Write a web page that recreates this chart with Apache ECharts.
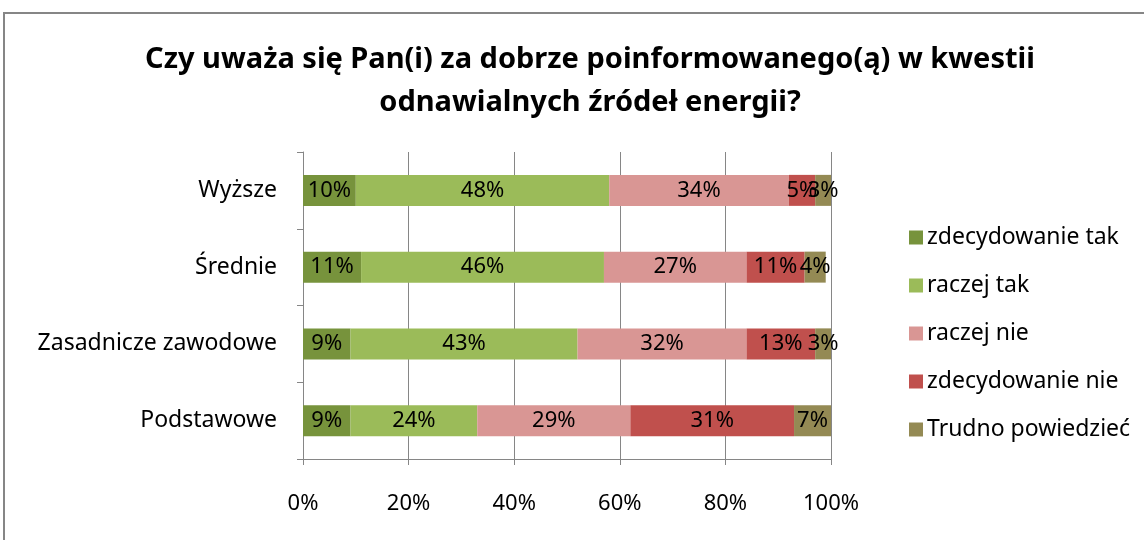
<!DOCTYPE html>
<html>
<head>
<meta charset="utf-8">
<script src="https://cdn.jsdelivr.net/npm/echarts@6/dist/echarts.min.js"></script>
<style>
  html, body { margin: 0; padding: 0; background: #ffffff; }
  #chart { width: 1144px; height: 540px; }
</style>
</head>
<body>
<div id="chart"></div>
<script>
// Education levels (top to bottom)
const categories = ['Wyższe', 'Średnie', 'Zasadnicze zawodowe', 'Podstawowe'];

// Answer shares in percent, one array per answer
const zdecydowanieTak = [10, 11, 9, 9];
const raczejTak = [48, 46, 43, 24];
const raczejNie = [34, 27, 32, 29];
const zdecydowanieNie = [5, 11, 13, 31];
const trudnoPowiedziec = [3, 4, 3, 7];

const seriesNames = ['zdecydowanie tak', 'raczej tak', 'raczej nie', 'zdecydowanie nie', 'Trudno powiedzieć'];
const seriesValues = [zdecydowanieTak, raczejTak, raczejNie, zdecydowanieNie, trudnoPowiedziec];
const seriesColors = ['#77933C', '#9BBB59', '#D99694', '#C0504D', '#948A54'];

const FONT = '"Noto Sans", "Open Sans", sans-serif';

const chart = echarts.init(document.getElementById('chart'), null, { renderer: 'canvas' });

chart.setOption({
  backgroundColor: '#ffffff',
  animation: false,
  textStyle: { fontFamily: FONT, color: '#000000' },
  graphic: [{
    type: 'rect',
    shape: { x: 4, y: 13, width: 1150, height: 540 },
    style: { fill: 'none', stroke: '#868686', lineWidth: 2 },
    silent: true
  }],
  title: {
    text: 'Czy uważa się Pan(i) za dobrze poinformowanego(ą) w kwestii\nodnawialnych źródeł energii?',
    left: 585,
    top: 33,
    textAlign: 'center',
    textStyle: {
      fontFamily: FONT,
      fontSize: 29,
      fontWeight: 'bold',
      color: '#000000',
      lineHeight: 43
    }
  },
  legend: {
    orient: 'vertical',
    left: 904,
    top: 221,
    itemWidth: 14,
    itemHeight: 14,
    itemGap: 25,
    icon: 'rect',
    data: seriesNames,
    textStyle: { fontFamily: FONT, fontSize: 23, color: '#000000', lineHeight: 23, padding: [0, 0, 0, -1] }
  },
  grid: { left: 303, right: 313, top: 152, bottom: 81, containLabel: false },
  xAxis: {
    type: 'value',
    min: 0,
    max: 100,
    interval: 20,
    axisLine: { show: true, lineStyle: { color: '#868686', width: 1 } },
    axisTick: { show: true, length: 6, lineStyle: { color: '#868686' } },
    splitLine: { show: true, lineStyle: { color: '#868686', width: 1 } },
    axisLabel: {
      formatter: '{value}%',
      fontFamily: FONT,
      fontSize: 22,
      color: '#000000',
      margin: 34
    }
  },
  yAxis: {
    type: 'category',
    inverse: true,
    data: categories,
    axisLine: { show: true, lineStyle: { color: '#868686', width: 1 } },
    axisTick: { show: true, length: 6, inside: false, lineStyle: { color: '#868686' } },
    axisLabel: { fontFamily: FONT, fontSize: 23, color: '#000000', margin: 26 }
  },
  series: seriesNames.map((name, i) => ({
    name: name,
    type: 'bar',
    stack: 'total',
    barWidth: 31,
    data: seriesValues[i],
    itemStyle: { color: seriesColors[i] },
    label: {
      show: true,
      position: 'inside',
      formatter: '{c}%',
      fontFamily: FONT,
      fontSize: 22,
      color: '#000000'
    }
  }))
});
</script>
</body>
</html>
